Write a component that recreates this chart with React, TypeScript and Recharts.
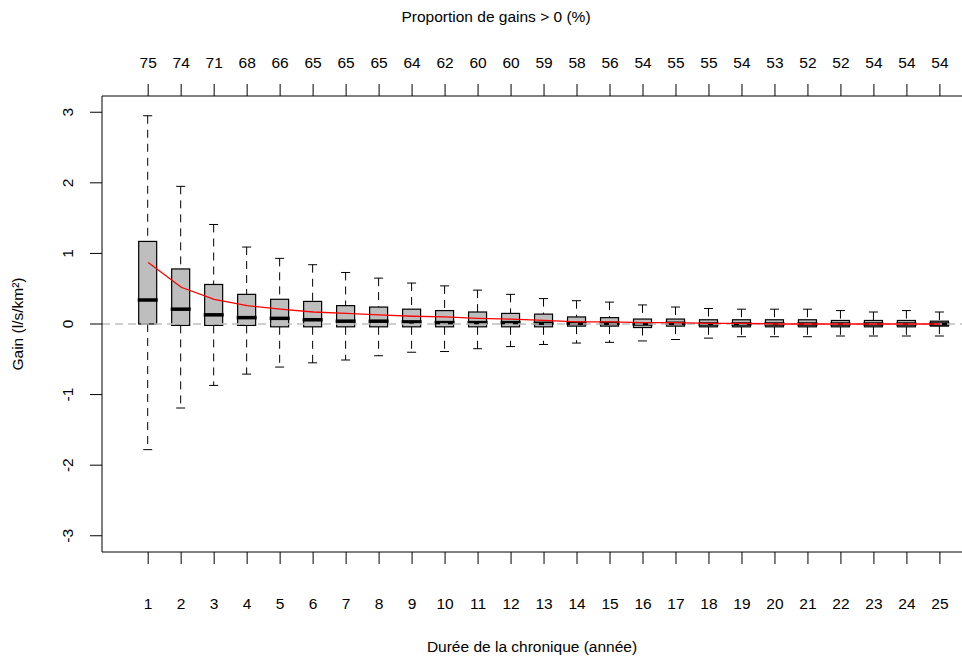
import React from "react";
import {
  ComposedChart,
  Bar,
  Line,
  XAxis,
  YAxis,
  ReferenceLine,
  Label,
} from "recharts";

const years = [1, 2, 3, 4, 5, 6, 7, 8, 9, 10, 11, 12, 13, 14, 15, 16, 17, 18, 19, 20, 21, 22, 23, 24, 25];
const propPositive = [75, 74, 71, 68, 66, 65, 65, 65, 64, 62, 60, 60, 59, 58, 56, 54, 55, 55, 54, 53, 52, 52, 54, 54, 54];

const whiskerLow = [-1.78, -1.19, -0.87, -0.71, -0.61, -0.55, -0.51, -0.45, -0.4, -0.39, -0.35, -0.32, -0.29, -0.27, -0.26, -0.24, -0.22, -0.2, -0.18, -0.18, -0.18, -0.17, -0.17, -0.17, -0.17];
const q1 = [0.0, -0.02, -0.02, -0.02, -0.04, -0.04, -0.04, -0.04, -0.04, -0.04, -0.04, -0.04, -0.04, -0.03, -0.03, -0.05, -0.03, -0.04, -0.04, -0.04, -0.04, -0.04, -0.04, -0.04, -0.03];
const median = [0.34, 0.21, 0.13, 0.09, 0.08, 0.06, 0.04, 0.04, 0.03, 0.02, 0.02, 0.02, 0.01, 0.01, 0.01, 0.0, 0.01, 0.0, 0.0, 0.0, 0.0, 0.0, 0.0, 0.0, 0.0];
const q3 = [1.17, 0.78, 0.56, 0.42, 0.35, 0.32, 0.26, 0.24, 0.21, 0.19, 0.17, 0.15, 0.14, 0.1, 0.09, 0.07, 0.07, 0.06, 0.06, 0.06, 0.06, 0.05, 0.05, 0.05, 0.04];
const whiskerHigh = [2.95, 1.95, 1.41, 1.09, 0.93, 0.84, 0.73, 0.65, 0.58, 0.54, 0.48, 0.42, 0.36, 0.33, 0.31, 0.27, 0.24, 0.22, 0.21, 0.21, 0.21, 0.19, 0.17, 0.19, 0.17];
const mean = [0.87, 0.52, 0.35, 0.26, 0.21, 0.17, 0.15, 0.13, 0.11, 0.1, 0.08, 0.07, 0.05, 0.03, 0.03, 0.02, 0.02, 0.01, 0.01, 0.0, 0.0, 0.0, 0.0, 0.0, 0.0];

const yTicks = [-3, -2, -1, 0, 1, 2, 3];

const data = years.map((year, i) => ({
  year,
  lo: whiskerLow[i],
  q1: q1[i],
  med: median[i],
  q3: q3[i],
  hi: whiskerHigh[i],
  mean: mean[i],
}));

const FONT = '"Liberation Sans", Arial, Helvetica, sans-serif';
const FS = 15.5;
const W = 962;
const H = 659;
const PLOT_LEFT = 102;

// box drawn inside the [lo, hi] range bar; inner values placed by interpolation on the bar's own pixels
function BoxShape(props: any) {
  const { x, y, width, height, payload } = props;
  if (!payload) return null;
  const top = Math.min(y, y + height);
  const bot = Math.max(y, y + height);
  const span = payload.hi - payload.lo;
  const px = (v: number) => top + ((payload.hi - v) / span) * (bot - top);
  const cx = x + width / 2;
  const half = 9;
  const cap = 4.5;
  const yHi = px(payload.hi);
  const yQ3 = px(payload.q3);
  const yMed = px(payload.med);
  const yQ1 = px(payload.q1);
  const yLo = px(payload.lo);
  return (
    <g>
      <line x1={cx} x2={cx} y1={yHi} y2={yQ3} stroke="#000" strokeDasharray="8 6" />
      <line x1={cx} x2={cx} y1={yQ1} y2={yLo} stroke="#000" strokeDasharray="8 6" />
      <line x1={cx - cap} x2={cx + cap} y1={yHi} y2={yHi} stroke="#000" />
      <line x1={cx - cap} x2={cx + cap} y1={yLo} y2={yLo} stroke="#000" />
      <rect x={cx - half} y={yQ3} width={half * 2} height={Math.max(yQ1 - yQ3, 0.5)} fill="#BEBEBE" stroke="#000" strokeWidth={1.2} />
      <line x1={cx - half - 1} x2={cx + half + 1} y1={yMed} y2={yMed} stroke="#000" strokeWidth={3.5} />
    </g>
  );
}

const bottomTick = (p: any) => (
  <text x={p.x} y={609} textAnchor="middle" fontSize={FS} fontFamily={FONT} fill="#000">
    {p.payload.value}
  </text>
);

const topTick = (p: any) => (
  <text x={p.x} y={68} textAnchor="middle" fontSize={FS} fontFamily={FONT} fill="#000">
    {propPositive[years.indexOf(p.payload.value)]}
  </text>
);

const leftTick = (p: any) => (
  <text
    x={73}
    y={p.y}
    transform={`rotate(-90, 73, ${p.y})`}
    textAnchor="middle"
    fontSize={FS}
    fontFamily={FONT}
    fill="#000"
  >
    {p.payload.value}
  </text>
);

export default function App() {
  return (
    <div style={{ position: "absolute", left: 0, top: 0, width: W, height: H, background: "#fff" }}>
      <ComposedChart width={W} height={H} data={data} margin={{ top: 0, right: 0, bottom: 0, left: 0 }}>
        <XAxis
          dataKey="year"
          type="number"
          domain={[-0.4, 25.67]}
          allowDataOverflow
          ticks={years}
          interval={0}
          height={107}
          tickSize={12}
          stroke="#000"
          tickLine={{ stroke: "#000" }}
          tick={bottomTick}
        >
          <Label
            content={() => (
              <text x={532} y={652} textAnchor="middle" fontSize={FS} fontFamily={FONT} fill="#000">
                Durée de la chronique (année)
              </text>
            )}
          />
        </XAxis>
        <XAxis
          xAxisId="top"
          orientation="top"
          dataKey="year"
          type="number"
          domain={[-0.4, 25.67]}
          allowDataOverflow
          ticks={years}
          interval={0}
          height={96}
          tickSize={12}
          stroke="#000"
          tickLine={{ stroke: "#000" }}
          tick={topTick}
        >
          <Label
            content={() => (
              <text x={496} y={22} textAnchor="middle" fontSize={FS} fontFamily={FONT} fill="#000">
                Proportion de gains &gt; 0 (%)
              </text>
            )}
          />
        </XAxis>
        <YAxis
          type="number"
          domain={[-3.23, 3.23]}
          allowDataOverflow
          ticks={yTicks}
          interval={0}
          width={PLOT_LEFT}
          tickSize={12}
          stroke="#000"
          tickLine={{ stroke: "#000" }}
          tick={leftTick}
        >
          <Label
            content={() => (
              <text
                x={23}
                y={324}
                transform="rotate(-90, 23, 324)"
                textAnchor="middle"
                fontSize={FS}
                fontFamily={FONT}
                fill="#000"
              >
                Gain (l/s/km²)
              </text>
            )}
          />
        </YAxis>
        <Bar
          dataKey={(d: any) => [d.lo, d.hi]}
          barSize={18}
          shape={BoxShape}
          isAnimationActive={false}
        />
        <ReferenceLine y={0} stroke="#BEBEBE" strokeDasharray="8 5" strokeWidth={1.3} />
        <Line
          dataKey="mean"
          stroke="#FF0000"
          strokeWidth={1.3}
          dot={false}
          activeDot={false}
          isAnimationActive={false}
        />
      </ComposedChart>
    </div>
  );
}
